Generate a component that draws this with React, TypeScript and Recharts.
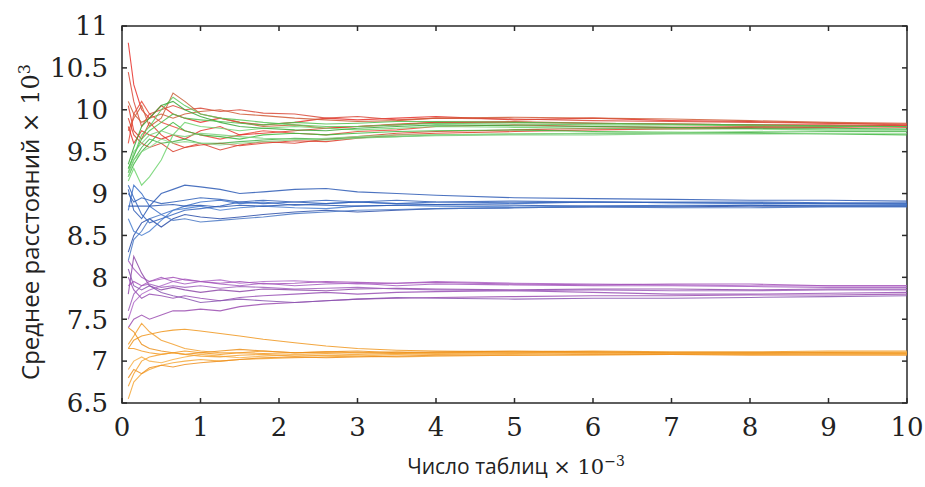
import React from 'react';
import { LineChart, Line, XAxis, YAxis, ReferenceArea } from 'recharts';

const tableCounts = [0.08, 0.15, 0.25, 0.35, 0.5, 0.65, 0.8, 1, 1.25, 1.5, 1.8, 2.2, 2.6, 3, 3.5, 4, 5, 6, 7, 8, 9, 10];
const xTicks = [0, 1, 2, 3, 4, 5, 6, 7, 8, 9, 10];
const yTicks = [6.5, 7, 7.5, 8, 8.5, 9, 9.5, 10, 10.5, 11];

const redRuns = [
  [10.8, 10.3, 10.0, 9.9, 10.05, 9.95, 9.9, 9.85, 9.9, 9.85, 9.82, 9.85, 9.9, 9.88, 9.9, 9.92, 9.88, 9.9, 9.87, 9.86, 9.84, 9.83],
  [10.45, 10.1, 9.8, 9.95, 10.0, 10.05, 10.0, 10.02, 9.98, 10.0, 9.96, 9.95, 9.9, 9.92, 9.88, 9.9, 9.89, 9.87, 9.86, 9.85, 9.84, 9.82],
  [10.05, 9.75, 9.65, 9.85, 9.7, 9.6, 9.55, 9.58, 9.6, 9.57, 9.6, 9.63, 9.62, 9.66, 9.7, 9.72, 9.74, 9.76, 9.77, 9.78, 9.79, 9.8],
  [9.75, 9.9, 10.05, 9.8, 9.9, 10.2, 10.1, 9.95, 9.9, 9.85, 9.8, 9.82, 9.78, 9.8, 9.83, 9.85, 9.86, 9.84, 9.83, 9.82, 9.81, 9.8],
  [9.6, 9.95, 10.1, 9.95, 9.85, 9.8, 9.75, 9.7, 9.65, 9.7, 9.75, 9.72, 9.7, 9.74, 9.76, 9.8, 9.82, 9.8, 9.79, 9.8, 9.81, 9.79],
  [9.9, 9.7, 9.6, 9.55, 9.6, 9.5, 9.55, 9.6, 9.52, 9.58, 9.62, 9.6, 9.65, 9.68, 9.72, 9.74, 9.76, 9.78, 9.78, 9.79, 9.8, 9.81],
  [10.1, 9.95, 9.85, 9.9, 9.95, 9.9, 9.95, 9.98, 10.0, 9.95, 9.93, 9.9, 9.88, 9.86, 9.87, 9.9, 9.91, 9.9, 9.89, 9.87, 9.85, 9.84],
  [9.8, 9.6, 9.75, 9.7, 9.65, 9.7, 9.65, 9.75, 9.8, 9.7, 9.72, 9.75, 9.78, 9.8, 9.82, 9.85, 9.85, 9.84, 9.83, 9.82, 9.82, 9.81],
];

const greenRuns = [
  [9.2, 9.35, 9.5, 9.6, 9.75, 9.85, 9.75, 9.7, 9.68, 9.65, 9.7, 9.72, 9.7, 9.72, 9.74, 9.75, 9.76, 9.74, 9.73, 9.72, 9.71, 9.7],
  [9.3, 9.45, 9.7, 9.8, 10.0, 10.15, 10.05, 9.95, 9.9, 9.88, 9.85, 9.82, 9.8, 9.8, 9.82, 9.84, 9.83, 9.82, 9.82, 9.81, 9.8, 9.8],
  [9.25, 9.4, 9.55, 9.65, 9.6, 9.62, 9.65, 9.6, 9.6, 9.62, 9.64, 9.66, 9.65, 9.67, 9.68, 9.7, 9.71, 9.72, 9.72, 9.73, 9.74, 9.74],
  [9.15, 9.3, 9.1, 9.2, 9.4, 9.7, 9.85, 9.8, 9.78, 9.75, 9.78, 9.8, 9.78, 9.76, 9.78, 9.8, 9.79, 9.78, 9.77, 9.77, 9.76, 9.76],
  [9.35, 9.55, 9.8, 9.9, 10.05, 10.1, 10.0, 9.92, 9.85, 9.8, 9.78, 9.76, 9.75, 9.78, 9.8, 9.82, 9.81, 9.8, 9.79, 9.78, 9.78, 9.77],
  [9.25, 9.5, 9.6, 9.7, 9.75, 9.7, 9.68, 9.72, 9.7, 9.68, 9.66, 9.65, 9.64, 9.66, 9.68, 9.69, 9.7, 9.7, 9.71, 9.71, 9.72, 9.72],
  [9.3, 9.45, 9.65, 9.75, 9.85, 9.95, 9.9, 9.88, 9.86, 9.84, 9.82, 9.85, 9.83, 9.84, 9.86, 9.86, 9.85, 9.84, 9.83, 9.82, 9.81, 9.8],
  [9.2, 9.4, 9.5, 9.55, 9.65, 9.6, 9.62, 9.6, 9.58, 9.6, 9.62, 9.64, 9.66, 9.68, 9.7, 9.7, 9.71, 9.72, 9.73, 9.74, 9.75, 9.75],
];

const blueRuns = [
  [9.05, 8.8, 8.7, 8.85, 9.0, 9.05, 9.1, 9.08, 9.05, 9.0, 9.02, 9.05, 9.06, 9.02, 9.0, 8.98, 8.95, 8.94, 8.93, 8.92, 8.92, 8.91],
  [8.8, 9.1, 9.0, 8.85, 8.75, 8.8, 8.85, 8.9, 8.92, 8.88, 8.9, 8.86, 8.88, 8.9, 8.88, 8.87, 8.88, 8.9, 8.89, 8.88, 8.88, 8.87],
  [8.3, 8.5, 8.65, 8.7, 8.6, 8.7, 8.75, 8.72, 8.7, 8.72, 8.75, 8.78, 8.8, 8.78, 8.8, 8.82, 8.83, 8.84, 8.84, 8.85, 8.85, 8.85],
  [8.7, 8.55, 8.5, 8.55, 8.68, 8.8, 8.82, 8.85, 8.8, 8.83, 8.85, 8.83, 8.82, 8.85, 8.86, 8.85, 8.84, 8.85, 8.86, 8.86, 8.86, 8.86],
  [9.1, 8.95, 8.75, 8.65, 8.7, 8.75, 8.8, 8.82, 8.85, 8.9, 8.88, 8.9, 8.92, 8.9, 8.88, 8.9, 8.91, 8.9, 8.89, 8.89, 8.88, 8.88],
  [8.85, 8.85, 8.85, 8.85, 8.86, 8.87, 8.85, 8.86, 8.84, 8.86, 8.85, 8.87, 8.86, 8.85, 8.86, 8.87, 8.86, 8.85, 8.85, 8.86, 8.85, 8.85],
  [8.2, 8.45, 8.55, 8.7, 8.75, 8.68, 8.7, 8.66, 8.68, 8.7, 8.72, 8.76, 8.78, 8.8, 8.81, 8.82, 8.83, 8.84, 8.83, 8.83, 8.84, 8.84],
  [9.0, 8.9, 8.95, 8.92, 8.88, 8.9, 8.92, 8.95, 8.93, 8.9, 8.92, 8.9, 8.88, 8.9, 8.92, 8.9, 8.89, 8.9, 8.9, 8.9, 8.89, 8.89],
];

const purpleRuns = [
  [7.4, 7.5, 7.55, 7.5, 7.55, 7.6, 7.6, 7.62, 7.6, 7.65, 7.68, 7.7, 7.72, 7.74, 7.75, 7.76, 7.77, 7.78, 7.78, 7.79, 7.79, 7.8],
  [8.2, 8.1, 8.0, 7.95, 8.0, 7.95, 7.92, 7.95, 7.92, 7.9, 7.93, 7.9, 7.92, 7.93, 7.9, 7.92, 7.91, 7.9, 7.9, 7.89, 7.88, 7.88],
  [7.8, 8.25, 8.05, 7.9, 7.85, 7.88, 7.85, 7.82, 7.85, 7.83, 7.86, 7.85, 7.84, 7.86, 7.87, 7.86, 7.85, 7.86, 7.86, 7.85, 7.86, 7.86],
  [7.5, 7.7, 7.8, 7.85, 7.9, 7.95, 7.98, 7.95, 7.97, 7.93, 7.95, 7.96, 7.94, 7.92, 7.93, 7.95, 7.93, 7.92, 7.91, 7.9, 7.9, 7.9],
  [8.0, 7.85, 7.75, 7.8, 7.78, 7.75, 7.78, 7.75, 7.72, 7.76, 7.78, 7.8, 7.82, 7.8, 7.82, 7.83, 7.84, 7.82, 7.8, 7.8, 7.81, 7.82],
  [7.6, 7.8, 7.9, 7.92, 7.88, 7.9, 7.88, 7.9, 7.87, 7.89, 7.88, 7.86, 7.87, 7.88, 7.86, 7.85, 7.84, 7.85, 7.84, 7.84, 7.85, 7.85],
  [8.1, 7.9, 7.85, 7.9, 7.82, 7.78, 7.75, 7.7, 7.72, 7.74, 7.72, 7.7, 7.72, 7.74, 7.76, 7.75, 7.74, 7.75, 7.75, 7.76, 7.77, 7.78],
  [7.9, 7.95, 7.9, 7.95, 7.98, 8.0, 7.97, 7.95, 7.93, 7.95, 7.92, 7.93, 7.95, 7.94, 7.93, 7.94, 7.92, 7.91, 7.92, 7.92, 7.9, 7.9],
];

const orangeRuns = [
  [7.15, 7.25, 7.3, 7.32, 7.35, 7.37, 7.38, 7.36, 7.33, 7.3, 7.26, 7.22, 7.18, 7.15, 7.13, 7.12, 7.11, 7.12, 7.11, 7.11, 7.12, 7.12],
  [6.55, 6.75, 6.85, 6.9, 6.95, 6.98, 7.0, 7.02, 7.0, 7.02, 7.03, 7.04, 7.05, 7.06, 7.05, 7.06, 7.07, 7.07, 7.08, 7.08, 7.08, 7.08],
  [6.8, 6.9, 6.85, 6.92, 6.95, 6.93, 6.96, 6.98, 7.0, 7.02, 7.04, 7.05, 7.04, 7.05, 7.06, 7.07, 7.07, 7.08, 7.08, 7.07, 7.07, 7.07],
  [7.2, 7.3, 7.45, 7.35, 7.25, 7.2, 7.15, 7.12, 7.1, 7.1, 7.12, 7.1, 7.09, 7.1, 7.11, 7.1, 7.1, 7.11, 7.1, 7.1, 7.1, 7.1],
  [7.15, 7.15, 7.12, 7.1, 7.08, 7.1, 7.12, 7.1, 7.08, 7.1, 7.09, 7.1, 7.11, 7.1, 7.09, 7.1, 7.11, 7.1, 7.09, 7.09, 7.1, 7.1],
  [6.9, 7.0, 7.05, 7.0, 6.98, 7.02, 7.05, 7.08, 7.06, 7.04, 7.06, 7.08, 7.07, 7.06, 7.08, 7.09, 7.08, 7.09, 7.1, 7.1, 7.11, 7.11],
  [7.4, 7.35, 7.2, 7.15, 7.12, 7.1, 7.08, 7.1, 7.12, 7.14, 7.12, 7.1, 7.11, 7.12, 7.1, 7.11, 7.12, 7.11, 7.1, 7.1, 7.1, 7.09],
  [6.7, 6.85, 7.0, 7.05, 7.08, 7.1, 7.08, 7.06, 7.05, 7.07, 7.08, 7.06, 7.07, 7.08, 7.09, 7.08, 7.09, 7.1, 7.09, 7.08, 7.09, 7.09],
];

const redColors = ['#e8302a', '#d94a3a', '#e23c2c', '#c8603a', '#e84a3a', '#d9402e', '#cf5a36', '#e5352d'];
const greenColors = ['#3cb83c', '#5cc85c', '#48b048', '#6fd46f', '#38a838', '#7ccf7c', '#4fbf4f', '#8ed88e'];
const blueColors = ['#2d5bb5', '#3a6fc8', '#2a4ea8', '#4a7fd0', '#3464bd', '#2c58b0', '#4a78c4', '#3060b8'];
const purpleColors = ['#9b4db0', '#a45cc0', '#8e4aa8', '#b06ac8', '#9850b4', '#a060bc', '#8a55b0', '#a452b8'];
const orangeColors = ['#f0961e', '#f5a83a', '#ee9020', '#f2a030', '#f39a25', '#f7b04a', '#eb8f1a', '#f4a232'];

const groups = [
  { key: 'red', runs: redRuns, colors: redColors },
  { key: 'green', runs: greenRuns, colors: greenColors },
  { key: 'blue', runs: blueRuns, colors: blueColors },
  { key: 'purple', runs: purpleRuns, colors: purpleColors },
  { key: 'orange', runs: orangeRuns, colors: orangeColors },
];

const rows = tableCounts.map((x, i) => {
  const row: Record<string, number> = { x };
  groups.forEach((g) => g.runs.forEach((run, j) => { row[`${g.key}${j}`] = run[i]; }));
  return row;
});

const CHART_W = 925;
const CHART_H = 487;
const M_TOP = 26;
const M_RIGHT = 18;
const X_AXIS_H = 84;
const Y_AXIS_W = 122;
const PLOT_TOP = M_TOP;
const PLOT_BOTTOM = CHART_H - X_AXIS_H;
const PLOT_LEFT = Y_AXIS_W;
const PLOT_RIGHT = CHART_W - M_RIGHT;
const TICK_LEN = 5;
const LABEL_GAP = 14;

const axisColor = '#2a2a2a';
const tickFontFamily = '"DejaVu Serif", serif';
const tickFontSize = 26;

const BottomTick = (props: any) => {
  const { x, y, payload } = props;
  return (
    <g>
      <line x1={x} x2={x} y1={PLOT_BOTTOM} y2={PLOT_BOTTOM - TICK_LEN} stroke={axisColor} strokeWidth={1.5} />
      <line x1={x} x2={x} y1={PLOT_TOP} y2={PLOT_TOP + TICK_LEN} stroke={axisColor} strokeWidth={1.5} />
      <text x={x} y={y} dy="0.74em" textAnchor="middle" fontFamily={tickFontFamily} fontSize={tickFontSize} fill="#222">
        {payload.value}
      </text>
    </g>
  );
};

const LeftTick = (props: any) => {
  const { x, y, payload } = props;
  return (
    <g>
      <line x1={PLOT_LEFT} x2={PLOT_LEFT + TICK_LEN} y1={y} y2={y} stroke={axisColor} strokeWidth={1.5} />
      <line x1={PLOT_RIGHT} x2={PLOT_RIGHT - TICK_LEN} y1={y} y2={y} stroke={axisColor} strokeWidth={1.5} />
      <text x={x} y={y} dy="0.36em" textAnchor="end" fontFamily={tickFontFamily} fontSize={tickFontSize} fill="#222">
        {payload.value}
      </text>
    </g>
  );
};

export default function App() {
  return (
    <div style={{ position: 'absolute', left: 0, top: 0, width: CHART_W, height: CHART_H, background: '#fff' }}>
      <LineChart width={CHART_W} height={CHART_H} data={rows} margin={{ top: M_TOP, right: M_RIGHT, bottom: 0, left: 0 }}>
        <XAxis
          dataKey="x" type="number" domain={[0, 10]} ticks={xTicks} allowDataOverflow
          height={X_AXIS_H} tickSize={0} tickMargin={LABEL_GAP}
          axisLine={false} tickLine={false} tick={<BottomTick />} interval={0}
        />
        <YAxis
          type="number" domain={[6.5, 11]} ticks={yTicks} allowDataOverflow
          width={Y_AXIS_W} tickSize={0} tickMargin={LABEL_GAP}
          axisLine={false} tickLine={false} tick={<LeftTick />} interval={0}
        />
        {groups.map((g) =>
          g.runs.map((_, j) => (
            <Line
              key={`${g.key}${j}`}
              dataKey={`${g.key}${j}`}
              type="linear"
              stroke={g.colors[j]}
              strokeWidth={1.1}
              strokeOpacity={0.85}
              dot={false}
              activeDot={false}
              isAnimationActive={false}
            />
          ))
        )}
        <ReferenceArea
          x1={0} x2={10} y1={6.5} y2={11}
          fill="none" fillOpacity={0} stroke={axisColor} strokeWidth={1.5} ifOverflow="visible"
        />
      </LineChart>
      <div
        style={{
          position: 'absolute', left: 29, top: 222, transform: 'translate(-50%, -50%) rotate(-90deg)',
          whiteSpace: 'nowrap', fontFamily: '"Open Sans", sans-serif', fontSize: 24, color: '#222',
        }}
      >
        Среднее расстояний <span style={{ fontFamily: '"DejaVu Serif", serif' }}>× 10<sup style={{ fontSize: 16 }}>3</sup></span>
      </div>
      <div
        style={{
          position: 'absolute', left: 516, top: 466, transform: 'translate(-50%, -50%)',
          whiteSpace: 'nowrap', fontFamily: '"Open Sans", sans-serif', fontSize: 21, color: '#222',
        }}
      >
        Число таблиц <span style={{ fontFamily: '"DejaVu Serif", serif' }}>× 10<sup style={{ fontSize: 14 }}>−3</sup></span>
      </div>
    </div>
  );
}
